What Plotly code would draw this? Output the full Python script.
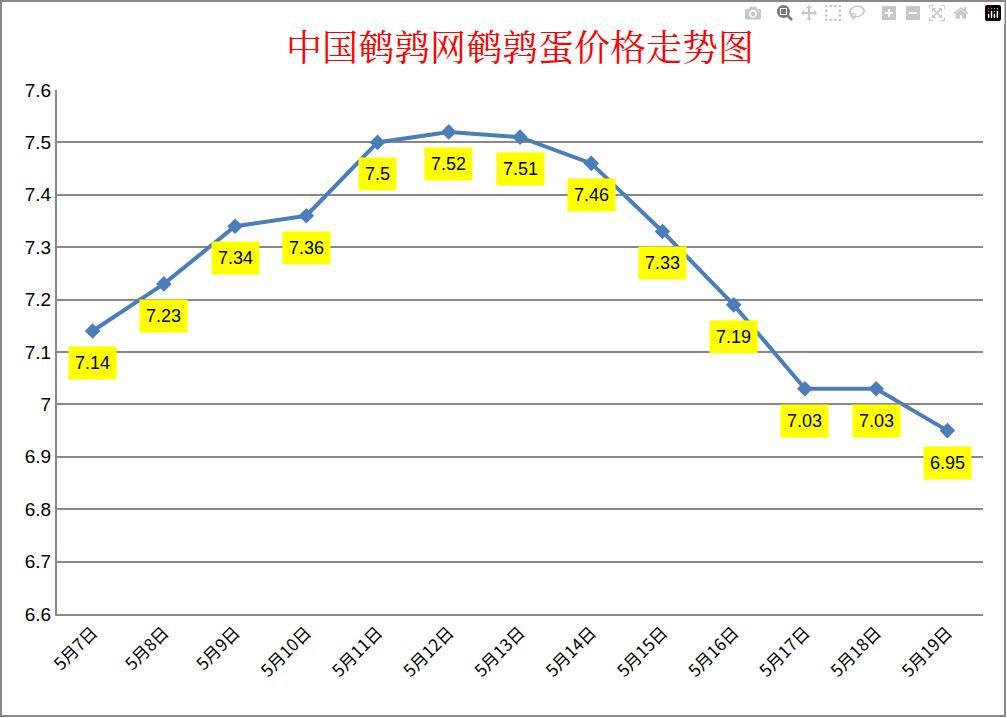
import plotly.graph_objs as go

# data
dates = ['5月7日', '5月8日', '5月9日', '5月10日', '5月11日', '5月12日', '5月13日',
         '5月14日', '5月15日', '5月16日', '5月17日', '5月18日', '5月19日']
prices = [7.14, 7.23, 7.34, 7.36, 7.5, 7.52, 7.51, 7.46, 7.33, 7.19, 7.03, 7.03, 6.95]
yticks = [6.6, 6.7, 6.8, 6.9, 7, 7.1, 7.2, 7.3, 7.4, 7.5, 7.6]

fig = go.Figure(go.Scatter(x=dates, y=prices, mode='lines+markers',
                           line=dict(color='#4a7ebb', width=4),
                           marker=dict(symbol='diamond', size=12, color='#4a7ebb'),
                           showlegend=False))

# yellow value labels under each point
for d, p in zip(dates, prices):
    fig.add_annotation(x=d, y=p, text=str(p), showarrow=False, yshift=-32,
                       bgcolor='#ffff00', borderpad=6,
                       font=dict(family='Liberation Sans', size=18, color='black'))

fig.update_layout(
    title=dict(text='中国鹌鹑网鹌鹑蛋价格走势图', x=0.5, xref='paper', y=0.95,
               font=dict(family='Noto Serif CJK SC, Noto Sans CJK SC', size=36, color='red')),
    width=1007, height=718,
    margin=dict(l=57, r=24, t=90, b=104),
    plot_bgcolor='white', paper_bgcolor='white',
    font=dict(family='Liberation Sans', size=19, color='black'),
)

# outer frame
fig.add_shape(type='rect', xref='paper', yref='paper', x0=-0.0605, x1=1.0238,
              y0=-0.1947, y1=1.1698, line=dict(color='#888888', width=2))

fig.update_xaxes(showline=True, linewidth=2, linecolor='#888888', range=[-0.5, 12.5],
                 tickangle=-45, ticks='', tickfont=dict(family='Noto Sans CJK SC', size=17))
fig.update_yaxes(range=[6.6, 7.6], tickvals=yticks, ticktext=[str(v) for v in yticks],
                 showline=True, linewidth=2, linecolor='#888888',
                 gridcolor='#888888', gridwidth=2, zeroline=False, ticks='')

fig.write_html('out.html', post_script="document.body.style.margin='0';")
